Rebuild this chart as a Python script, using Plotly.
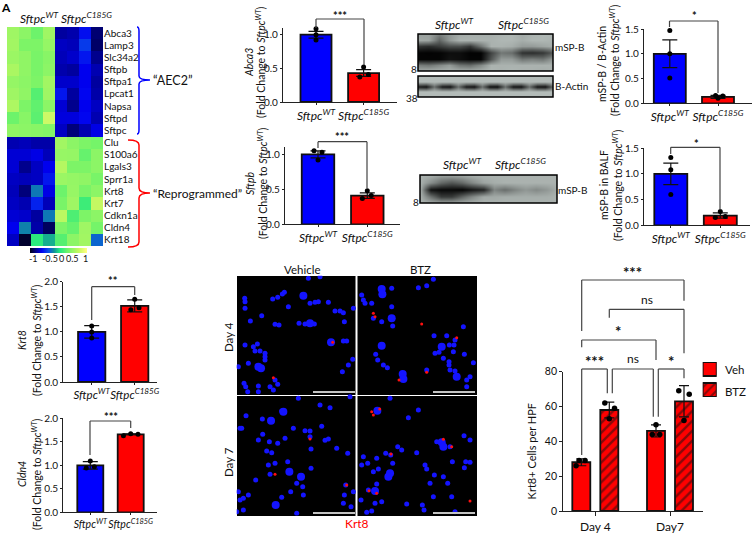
import plotly.graph_objects as go

W, H = 756, 533
FONT = "Lato"
INK = "#222222"
BLUE = "#0000ff"
RED = "#ff0000"
SUP_SMALL = '<sup style="font-size:7px">'
WT = "<i>Sftpc<sup>WT</sup></i>"
KO = "<i>Sftpc<sup>C185G</sup></i>"
FOLD = f"(Fold Change to <i>Sftpc{SUP_SMALL}WT</sup></i>)"

genes = ["Abca3", "Lamp3", "Slc34a2", "Sftpb", "Sftpa1", "Lpcat1", "Napsa", "Sftpd", "Sftpc",
         "Clu", "S100a6", "Lgals3", "Sprr1a", "Krt8", "Krt7", "Cdkn1a", "Cldn4", "Krt18"]
heat = [
    [0.60, 0.50, 0.35, 0.60, -0.88, -0.85, -0.65, -0.98],
    [0.62, 0.42, 0.42, 0.55, -0.80, -0.82, -0.50, -1.00],
    [0.58, 0.52, 0.40, 0.48, -0.82, -0.78, -0.62, -0.92],
    [0.66, 0.52, 0.40, 0.50, -0.85, -0.88, -0.70, -0.84],
    [0.55, 0.50, 0.42, 0.62, -0.78, -0.78, -0.70, -0.88],
    [0.60, 0.52, 0.25, 0.60, -0.62, -0.88, -0.68, -0.86],
    [0.68, 0.42, 0.30, 0.50, -0.76, -0.92, -0.70, -0.80],
    [0.35, 0.48, 0.28, 0.85, -0.74, -0.74, -0.68, -0.84],
    [0.52, 0.50, 0.48, 0.45, -0.80, -0.96, -0.84, -0.72],
    [-0.84, -0.82, -0.86, -0.86, 0.62, 0.50, 0.42, 0.38],
    [-0.76, -0.76, -0.72, -0.82, 0.56, 0.55, 0.32, 0.50],
    [-0.76, -0.92, -0.80, -0.70, 0.72, 0.42, 0.42, 0.50],
    [-0.80, -0.82, -0.80, -0.62, 0.58, 0.55, 0.52, 0.40],
    [-0.82, -0.96, -0.28, -0.72, 0.35, 0.56, 0.40, 0.50],
    [-0.80, -0.84, -0.58, -0.82, 0.40, 0.60, 0.15, 0.80],
    [-0.76, -0.78, -0.88, -0.28, 0.75, 0.22, 0.42, 0.50],
    [-0.70, -0.25, -0.86, -1.02, 0.42, 0.32, 0.60, 0.38],
    [-0.80, -1.12, 0.08, -0.12, 0.25, 0.50, 0.62, -0.35],
]
heat_scale = [[0, "#000020"], [0.1, "#00008c"], [0.2, "#0000f0"], [0.32, "#0a50e8"], [0.42, "#109098"],
              [0.52, "#20e880"], [0.68, "#78f468"], [0.85, "#c0f860"], [1, "#ffff80"]]
ZMIN, ZMAX = -1.15, 1.12
key_labels = ["-1", "-0.5", "0", "0.5", "1"]

abca3_means, abca3_err = [1.0, 0.43], [0.05, 0.05]
abca3_wt, abca3_ko = [1.09, 1.0, 0.92], [0.52, 0.37, 0.41]
sftpb_means, sftpb_err = [1.0, 0.41], [0.05, 0.04]
sftpb_wt, sftpb_ko = [1.05, 0.92, 1.03], [0.48, 0.37, 0.41]
blot_means, blot_err = [1.0, 0.13], [0.28, 0.03]
blot_wt, blot_ko = [1.47, 1.0, 0.51], [0.16, 0.10, 0.15]
balf_means, balf_err = [1.0, 0.19], [0.21, 0.05]
balf_wt, balf_ko = [1.32, 1.08, 0.60], [0.27, 0.15, 0.17]
krt8_means, krt8_err = [1.0, 1.52], [0.125, 0.12]
krt8_wt, krt8_ko = [1.12, 1.0, 0.88], [1.65, 1.44, 1.48]
cldn4_means, cldn4_err = [1.0, 1.66], [0.08, 0.01]
cldn4_wt, cldn4_ko = [1.09, 0.94, 0.97], [1.63, 1.67, 1.66]

veh_means, veh_err = [28, 46], [2, 3.5]
btz_means, btz_err = [58, 63], [4.5, 9]
veh_d4_pts, veh_d7_pts = [29, 29, 26], [49.5, 44, 44]
btz_d4_pts, btz_d7_pts = [62, 53, 59], [69, 67, 52]

blot1 = [
    [175, 175, 140, 165, 185, 190, 190, 190, 195, 200, 185, 195, 200, 200],
    [185, 180, 110, 165, 195, 195, 195, 195, 200, 200, 190, 200, 200, 195],
    [60, 50, 65, 85, 85, 60, 125, 195, 195, 190, 170, 170, 180, 190],
    [5, 3, 5, 15, 15, 3, 3, 75, 130, 120, 55, 50, 60, 100],
    [5, 5, 5, 20, 15, 5, 5, 95, 170, 170, 130, 140, 130, 170],
    [140, 130, 150, 170, 130, 120, 150, 195, 195, 195, 195, 195, 195, 195],
    [190, 195, 195, 195, 195, 195, 195, 200, 195, 200, 195, 195, 190, 195],
]
actin_back = [205] * 18
actin_band = [35, 20, 120, 30, 20, 120, 30, 20, 120, 20, 15, 120, 25, 20, 120, 25, 20, 120]
blot2 = [actin_back, actin_back, actin_band, actin_back, actin_back]
blot3 = [
    [195, 190, 175, 175, 180, 190, 195, 195, 195, 195, 195, 195, 195, 195],
    [195, 155, 115, 95, 115, 150, 180, 190, 195, 195, 195, 195, 195, 195],
    [195, 20, 10, 10, 5, 25, 40, 145, 120, 145, 165, 150, 165, 190],
    [195, 125, 65, 65, 110, 150, 185, 185, 190, 190, 190, 190, 190, 195],
    [195, 195, 195, 195, 195, 195, 195, 195, 195, 195, 195, 195, 195, 195],
]

nuclei_small = [
    (59, 100), (60, 110), (60, 130), (76, 168), (110, 152), (143, 102), (158, 97), (172, 87), (178, 82),
    (190, 125), (255, 115), (270, 112), (280, 110), (310, 112), (330, 138), (345, 138), (355, 143),
    (358, 170), (385, 130), (150, 178), (162, 180), (222, 175), (240, 177), (268, 177), (355, 228),
    (365, 228), (60, 240), (85, 245), (97, 237), (90, 258), (105, 258), (120, 265), (120, 275), (120, 285),
    (70, 295), (40, 305), (57, 355), (62, 365), (68, 380), (100, 363), (100, 380), (135, 365), (145, 375),
    (150, 345), (158, 358), (383, 283), (370, 300), (352, 320), (250, 40), (285, 35),
    (580, 68), (605, 62), (625, 43), (410, 90), (415, 105), (420, 115), (445, 160), (470, 170), (503, 183),
    (500, 125), (440, 115), (500, 70), (627, 212), (665, 212), (715, 185), (690, 225), (630, 265), (642, 262),
    (673, 240), (687, 240), (685, 260), (655, 280), (672, 290), (672, 300), (718, 268), (745, 293), (735, 335),
    (725, 345), (725, 365), (605, 315), (452, 268), (458, 285), (475, 300), (487, 308), (675, 315), (690, 318),
    (63, 452), (45, 490), (50, 490), (112, 462), (170, 438), (205, 490), (315, 428), (285, 420), (290, 484),
    (240, 497), (255, 498), (255, 515), (113, 508), (100, 525), (133, 530), (158, 535), (180, 520), (310, 522),
    (300, 526), (335, 550), (125, 558), (140, 563), (258, 552), (368, 565), (150, 595), (130, 600), (135, 628),
    (188, 590), (258, 610), (92, 645), (215, 655), (233, 665), (197, 680), (235, 690), (170, 697), (40, 680),
    (70, 690), (55, 700), (45, 705), (215, 745), (355, 715), (378, 725), (358, 690), (362, 660), (385, 680),
    (35, 740), (55, 735), (220, 400), (375, 395),
    (550, 458), (580, 435), (495, 400), (635, 530), (675, 545), (717, 512), (735, 525), (518, 545), (530, 555),
    (575, 563), (415, 575), (428, 595), (455, 580), (482, 565), (497, 570), (503, 595), (460, 612), (445, 620),
    (410, 600), (605, 612), (600, 600), (628, 630), (682, 590), (722, 590), (735, 592), (718, 608), (655, 635),
    (615, 655), (668, 655), (455, 657), (430, 675), (625, 695), (680, 695), (450, 715), (470, 710), (440, 738),
    (425, 742), (592, 720), (597, 735), (545, 717), (690, 740), (408, 705),
]
nuclei_big = [
    (235, 92), (255, 175), (318, 232), (100, 305), (108, 310), (470, 72), (472, 88), (500, 160), (650, 245),
    (695, 335), (470, 242), (533, 327), (535, 342), (138, 467), (175, 440), (193, 620), (228, 635), (152, 720),
    (457, 437), (650, 532), (655, 545), (495, 625), (490, 635), (450, 678),
]
krt8_signal = [
    (323, 232), (145, 338), (255, 522), (150, 628), (365, 660), (445, 145), (450, 155), (590, 177), (695, 218),
    (605, 322), (522, 345), (445, 450), (464, 432), (440, 440), (655, 523), (680, 545), (432, 677), (455, 685),
    (735, 708), (498, 567),
]

fig = go.Figure()
layout = {}
shapes = []
annotations = []
axis_count = [0]


def px(x):
    return x / W


def py(y):
    return 1 - y / H


def axes(x0, x1, top, bottom, xopts=None, yopts=None):
    axis_count[0] += 1
    n = axis_count[0]
    xname, yname = f"x{n}", f"y{n}"
    xkey, ykey = f"xaxis{n}", f"yaxis{n}"
    base_x = dict(domain=[px(x0), px(x1)], anchor=yname, showgrid=False, zeroline=False, showticklabels=False,
                  ticks="", showline=False, tickangle=0)
    base_y = dict(domain=[py(bottom), py(top)], anchor=xname, showgrid=False, zeroline=False, showticklabels=False,
                  ticks="", showline=False)
    base_x.update(xopts or {})
    base_y.update(yopts or {})
    layout[xkey], layout[ykey] = base_x, base_y
    return xname, yname


def text(x, y, s, size=11, color="#111111", angle=0, anchor="center"):
    annotations.append(dict(x=px(x), y=py(y), xref="paper", yref="paper", text=s, showarrow=False, textangle=angle,
                            xanchor=anchor, yanchor="middle", font=dict(family=FONT, size=size, color=color)))


def line_shape(x0, y0, x1, y1, color=INK, width=1.2):
    shapes.append(dict(type="line", xref="paper", yref="paper", x0=px(x0), y0=py(y0), x1=px(x1), y1=py(y1),
                       line=dict(color=color, width=width)))


def rect_shape(x0, y0, x1, y1, fill="rgba(0,0,0,0)", color="black", width=1.5, layer="above"):
    shapes.append(dict(type="rect", xref="paper", yref="paper", x0=px(x0), y0=py(y0), x1=px(x1), y1=py(y1),
                       fillcolor=fill, line=dict(color=color, width=width), layer=layer))


def bracket(xl, xr, top, dl, dr, color="#444444"):
    line_shape(xl, top, xr, top, color)
    line_shape(xl, top, xl, dl, color)
    line_shape(xr, top, xr, dr, color)


def path_shape(points, color):
    parts = []
    for cmd, *vals in points:
        coords = [f"{px(vals[i]):.5f},{py(vals[i + 1]):.5f}" for i in range(0, len(vals), 2)]
        parts.append(cmd + " " + " ".join(coords))
    shapes.append(dict(type="path", xref="paper", yref="paper", path=" ".join(parts), line=dict(color=color, width=1.5)))


def two_bar(left, c0, spacing, bar_px, y0_px, unit, ymax, ticks, means, errs, wt_pts, ko_pts, wt_offs, ko_offs, right,
            label_size=12):
    xr = [(left - c0) / spacing, (right - c0) / spacing]
    ytop_px = y0_px - ymax * unit
    xn, yn = axes(left, right, ytop_px, y0_px,
                  dict(range=xr, showline=True, linecolor=INK, linewidth=1.3, ticks="outside", ticklen=2, tickcolor=INK,
                       tickvals=[0, 1], ticktext=[WT, KO], showticklabels=True,
                       tickfont=dict(family=FONT, size=label_size, color="#111")),
                  dict(range=[0, ymax], showline=True, linecolor=INK, linewidth=1.3, ticks="outside", ticklen=2,
                       tickcolor=INK, tickvals=ticks, ticktext=[f"{t:.1f}" for t in ticks], showticklabels=True,
                       tickfont=dict(family=FONT, size=10, color="#111")))
    fig.add_trace(go.Bar(x=[0, 1], y=means, width=bar_px / spacing, xaxis=xn, yaxis=yn,
                         marker=dict(color=[BLUE, RED], line=dict(color="#111", width=1.8)),
                         error_y=dict(type="data", array=errs, color="#111", thickness=1.2, width=7.5)))
    fig.add_trace(go.Scatter(x=list(wt_offs) + [1 + o for o in ko_offs], y=wt_pts + ko_pts, mode="markers",
                             marker=dict(color="black", size=5), xaxis=xn, yaxis=yn, cliponaxis=False))


# top-left panel letter
text(6, 7, "<b>A</b>", 12, "black")

# heatmap
hx, hy = axes(7, 103, 27, 246,
              dict(range=[-0.5, 7.5]),
              dict(range=[17.5, -0.5], side="right", tickvals=list(range(18)), ticktext=genes, showticklabels=True,
                   tickfont=dict(family=FONT, size=10, color="#111"), ticklen=0))
fig.add_trace(go.Heatmap(z=heat, xaxis=hx, yaxis=hy, zmin=ZMIN, zmax=ZMAX, colorscale=heat_scale, showscale=False))
# colour key drawn as its own small axis
key_steps = [ZMIN + (ZMAX - ZMIN) * i / 56 for i in range(57)]
kx, ky = axes(30, 87, 248, 253, dict(range=[ZMIN, ZMAX]), dict(range=[-0.5, 0.5]))
fig.add_trace(go.Heatmap(x=key_steps, z=[key_steps], xaxis=kx, yaxis=ky, zmin=ZMIN, zmax=ZMAX, colorscale=heat_scale,
                         showscale=False, hoverinfo="skip"))
for label, lx_pos in zip(key_labels, [33, 50, 61.5, 72, 85]):
    text(lx_pos, 259, label, 9)
text(39, 18, WT, 12)
text(86, 18, KO, 12)
path_shape([("M", 137, 27), ("Q", 139, 27, 139, 31), ("L", 139, 76), ("Q", 139, 80, 150, 80), ("Q", 139, 80, 139, 84),
            ("L", 139, 130), ("Q", 139, 134, 137, 134)], BLUE)
path_shape([("M", 128, 140), ("Q", 139, 140, 139, 145), ("L", 139, 188), ("Q", 139, 193, 150, 193),
            ("Q", 139, 193, 139, 198), ("L", 139, 242), ("Q", 139, 247, 128, 247)], RED)
text(151, 80, "“AEC2”", 12.5, anchor="left")
text(151, 193, "“Reprogrammed”", 12, anchor="left")

# bar panels
two_bar(283, 316, 47.6, 31, 102, 67.3, 1.1, [0, 0.5, 1.0], abca3_means, abca3_err, abca3_wt, abca3_ko,
        [0, 0, 0], [0, -0.08, 0.1], 397)
bracket(316, 364, 19, 28, 65)
text(340, 15, "<b>***</b>", 11)
text(249, 63, "<i>Abca3</i>", 10.5, angle=-90)
text(261, 62, FOLD, 10.5, angle=-90)

two_bar(285, 318, 49.3, 32.5, 224.3, 70, 1.11, [0, 0.5, 1.0], sftpb_means, sftpb_err, sftpb_wt, sftpb_ko,
        [-0.08, 0, 0.08], [0, -0.1, 0.08], 400)
bracket(318, 367, 141.7, 148, 188)
text(342, 137, "<b>***</b>", 11)
text(250, 183, "<i>Sftpb</i>", 10.5, angle=-90)
text(262, 183, FOLD, 10.5, angle=-90)

two_bar(644, 669.8, 48.2, 32, 103.3, 49.5, 1.5, [0, 0.5, 1.0, 1.5], blot_means, blot_err, blot_wt, blot_ko,
        [0, 0, 0], [-0.05, 0, 0.1], 752)
bracket(669.5, 718, 21, 27, 93)
text(694, 16, "<b>*</b>", 11)
text(602, 64, "mSP-B / B-Actin", 10.5, angle=-90)
text(615, 60, FOLD, 10.5, angle=-90)

two_bar(644, 670.8, 49.5, 33, 225.3, 51.4, 1.5, [0, 0.5, 1.0, 1.5], balf_means, balf_err, balf_wt, balf_ko,
        [0, 0, 0], [0, -0.1, 0.1], 750)
bracket(670.7, 720, 147.3, 154, 210)
text(696, 143, "<b>*</b>", 11)
text(604, 185, "mSP-B in BALF", 10.5, angle=-90)
text(617, 185, FOLD, 10.5, angle=-90)

two_bar(63.3, 91.7, 43, 27.3, 382, 50.1, 2.0, [0, 0.5, 1.0, 1.5, 2.0], krt8_means, krt8_err, krt8_wt, krt8_ko,
        [0, 0, 0], [0, -0.09, 0.1], 157, label_size=11.5)
bracket(91.7, 134.7, 286.7, 320, 295)
text(113, 280, "<b>**</b>", 11)
text(22, 340, "<i>Krt8</i>", 10.5, angle=-90)
text(36, 340, FOLD, 10.5, angle=-90)

two_bar(63.3, 90.3, 40.4, 26, 512.3, 47, 2.0, [0, 0.5, 1.0, 1.5, 2.0], cldn4_means, cldn4_err, cldn4_wt, cldn4_ko,
        [0, -0.1, 0.1], [-0.18, 0, 0.18], 157, label_size=10.5)
bracket(90, 130.7, 421, 455, 428)
text(110.7, 416, "<b>***</b>", 11)
text(22, 474, "<i>Cldn4</i>", 10.5, angle=-90)
text(36, 474, FOLD, 10.5, angle=-90)

# blots
for zdata, x0, x1, y0, y1 in [(blot1, 418, 553, 34, 71), (blot2, 418, 553, 76, 97), (blot3, 420, 557, 175, 203)]:
    bx, by = axes(x0, x1, y0, y1, dict(range=[0, len(zdata[0]) - 1]), dict(range=[len(zdata) - 1, 0]))
    fig.add_trace(go.Heatmap(z=zdata, xaxis=bx, yaxis=by, zmin=0, zmax=255, zsmooth="best", showscale=False,
                             colorscale=[[0, "#000000"], [1, "#dfe9e5"]], hoverinfo="skip"))
    rect_shape(x0, y0, x1, y1)
text(454, 24, WT, 12)
text(523, 24, KO, 12)
text(570, 47, "mSP-B", 10)
text(414, 69, "8", 10)
text(571, 86, "B-Actin", 10)
text(412, 98, "38", 10)
text(462, 164, WT, 12)
text(520, 164, KO, 12)
text(573, 190, "mSP-B", 10)
text(416, 202, "8", 10)

# micrographs
for x0, x1, y0, y1 in [(237, 355.5, 276, 395), (357.5, 477, 276, 395), (237, 355.5, 396, 516), (357.5, 477, 396, 516)]:
    rect_shape(x0, y0, x1, y1, fill="black", color="black", width=0, layer="below")
mx, my = axes(236.7, 476.7, 275.7, 515.7, dict(range=[35, 755]), dict(range=[752, 32]))
fig.add_trace(go.Scatter(x=[p[0] for p in nuclei_small], y=[p[1] for p in nuclei_small], mode="markers", xaxis=mx,
                         yaxis=my, marker=dict(color="#1414ff", size=5), hoverinfo="skip"))
fig.add_trace(go.Scatter(x=[p[0] for p in nuclei_big], y=[p[1] for p in nuclei_big], mode="markers", xaxis=mx,
                         yaxis=my, marker=dict(color="#1414ff", size=8), hoverinfo="skip"))
fig.add_trace(go.Scatter(x=[p[0] for p in krt8_signal], y=[p[1] for p in krt8_signal], mode="markers", xaxis=mx,
                         yaxis=my, marker=dict(color="#ff1010", size=3), hoverinfo="skip"))
for x0, x1, yb in [(313, 355, 392), (433, 475, 392), (313, 355, 513), (433, 475, 513)]:
    line_shape(x0, yb, x1, yb, "#c4c4c4", 2)
text(302, 269, "Vehicle", 11.5)
text(420, 269, "BTZ", 11.5)
text(228, 337, "Day 4", 11.5, angle=-90)
text(228, 462, "Day 7", 11.5, angle=-90)
text(357, 523, "Krt8", 12, RED)

# grouped panel
center_d4, center_d7 = 595.3, 670
g_spacing = center_d7 - center_d4
gx, gy = axes(563.3, 702.7, 371.7, 511,
              dict(range=[(563.3 - center_d4) / g_spacing, (702.7 - center_d4) / g_spacing], showline=True, linecolor=INK,
                   linewidth=1.3, ticks="outside", ticklen=4, tickcolor=INK, tickvals=[0, 1], ticktext=["Day 4", "Day7"],
                   showticklabels=True, tickfont=dict(family=FONT, size=12, color="#111")),
              dict(range=[0, 80], showline=True, linecolor=INK, linewidth=1.3, ticks="outside", ticklen=3, tickcolor=INK,
                   tickvals=[0, 20, 40, 60, 80], showticklabels=True, tickfont=dict(family=FONT, size=10.5, color="#111")))
off = 14 / g_spacing
bw = 18 / g_spacing
fig.add_trace(go.Bar(x=[-off, 1 - off], y=veh_means, width=bw, xaxis=gx, yaxis=gy,
                     marker=dict(color=RED, line=dict(color="#111", width=1.8)),
                     error_y=dict(type="data", array=veh_err, color="#111", thickness=1.2, width=5)))
fig.add_trace(go.Bar(x=[off, 1 + off], y=btz_means, width=bw, xaxis=gx, yaxis=gy,
                     marker=dict(color=RED, line=dict(color="#111", width=1.8),
                                 pattern=dict(shape="/", fgcolor="#111", bgcolor=RED, size=7, solidity=0.35)),
                     error_y=dict(type="data", array=btz_err, color="#111", thickness=1.2, width=5)))
jit = [-0.03, 0.05, -0.07]
fig.add_trace(go.Scatter(x=[-off + j for j in jit] + [1 - off + j for j in [0, 0.05, -0.05]]
                           + [off - 0.06, off + 0.0, off + 0.07] + [1 + off - 0.07, 1 + off + 0.07, 1 + off],
                         y=veh_d4_pts + veh_d7_pts + btz_d4_pts + btz_d7_pts, mode="markers", xaxis=gx, yaxis=gy,
                         marker=dict(color="black", size=5.5), cliponaxis=False))
bracket(581.7, 684, 280, 331, 300.7)
bracket(609.3, 684, 309.3, 317.7, 353.3)
bracket(581.7, 656, 340, 347.3, 360)
bracket(581.7, 607.3, 369, 455, 393.3)
bracket(612.3, 653.3, 369, 393.3, 416.7)
bracket(658.3, 684, 369, 416.7, 378.3)
text(632.7, 272, "<b>***</b>", 15)
text(646.7, 299, "ns", 12)
text(618.3, 331, "<b>*</b>", 15)
text(594, 361, "<b>***</b>", 15)
text(632.7, 358, "ns", 12)
text(671, 361, "<b>*</b>", 15)
lx, ly = axes(702.7, 716.7, 362, 397, dict(range=[-0.5, 0.5]), dict(range=[0, 35]))
fig.add_trace(go.Bar(x=[0], y=[14], base=[21], width=1, xaxis=lx, yaxis=ly, cliponaxis=False,
                     marker=dict(color=RED, line=dict(color="#111", width=1.8))))
fig.add_trace(go.Bar(x=[0], y=[14], base=[0], width=1, xaxis=lx, yaxis=ly, cliponaxis=False,
                     marker=dict(color=RED, line=dict(color="#111", width=1.8),
                                 pattern=dict(shape="/", fgcolor="#111", bgcolor=RED, size=6, solidity=0.35))))
text(723, 369, "Veh", 11.5, anchor="left")
text(723, 391, "BTZ", 11.5, anchor="left")
text(531.7, 451.7, "Krt8+ Cells per HPF", 11, angle=-90)

fig.update_layout(width=W, height=H, margin=dict(l=0, r=0, t=0, b=0, autoexpand=False), showlegend=False,
                  barmode="overlay", paper_bgcolor="white", plot_bgcolor="rgba(0,0,0,0)", font=dict(family=FONT),
                  shapes=shapes, annotations=annotations, **layout)
fig.write_html("out.html", config={"displayModeBar": False},
               post_script="document.body.style.margin='0';document.documentElement.style.overflow='hidden';")
